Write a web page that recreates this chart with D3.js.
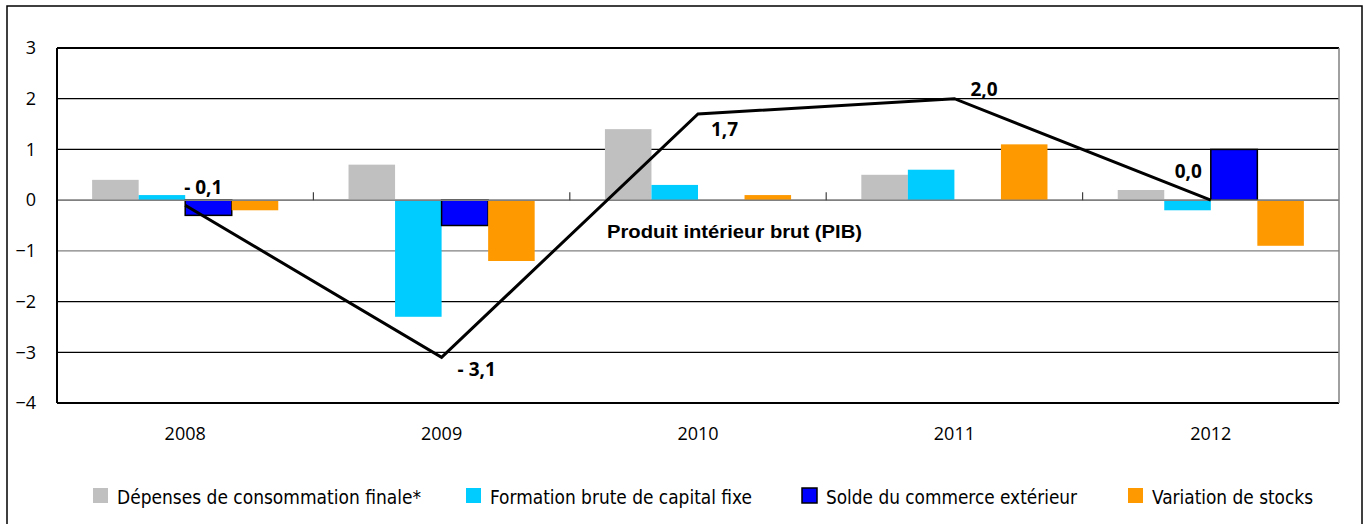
<!DOCTYPE html>
<html>
<head>
<meta charset="utf-8">
<script src="https://cdn.jsdelivr.net/npm/d3@7"></script>
<style>
  body { margin: 0; background: white; }
</style>
</head>
<body>
<div id="container"></div>
<script>
// data
let years = ["2008", "2009", "2010", "2011", "2012"];
let seriesNames = [
  "Dépenses de consommation finale*",
  "Formation brute de capital fixe",
  "Solde du commerce extérieur",
  "Variation de stocks"
];
let depenses = [0.4, 0.7, 1.4, 0.5, 0.2];
let formation = [0.1, -2.3, 0.3, 0.6, -0.2];
let solde = [-0.3, -0.5, 0, 0, 1.0];
let stocks = [-0.2, -1.2, 0.1, 1.1, -0.9];
let pib = [-0.1, -3.1, 1.7, 2.0, 0.0];
let yTicks = [3, 2, 1, 0, -1, -2, -3, -4];

///////////////////////////

let w = 1366;
let h = 524;
let plotLeft = 57, plotRight = 1339, plotTop = 48, plotBottom = 403;
let colors = ["#c0c0c0", "#00ccff", "#0000ff", "#ff9900"];

// where each pib label sits relative to its point
let labelDx = [-1, 16, 13, 16, -9];
let labelDy = [-11, 19, 22, -3, -22];
let labelAnchor = ["start", "start", "start", "start", "end"];

// legend layout
let legendX = [93, 466, 802, 1128];
let legendTextW = [304, 262, 251, 161];

let viz = d3.select("#container").append("svg")
  .attr("width", w)
  .attr("height", h)
  .style("display", "block");

viz.append("rect")
  .attr("x", 7).attr("y", 6)
  .attr("width", 1355).attr("height", 530)
  .attr("fill", "white")
  .attr("stroke", "black")
  .attr("stroke-width", 1.5);

let xScale = d3.scaleBand().domain(years).range([plotLeft, plotRight]);
let bw = xScale.bandwidth();
let inner = d3.scaleBand().domain(d3.range(4)).range([bw * 0.137, bw * (1 - 0.137)]);
let yScale = d3.scaleLinear().domain([-4, 3]).range([plotBottom, plotTop]);

// gridlines
viz.append("g").selectAll("line").data(yTicks)
  .enter().append("line")
    .attr("x1", plotLeft).attr("x2", plotRight)
    .attr("y1", d => yScale(d)).attr("y2", d => yScale(d))
    .attr("stroke", d => (d === 0 || d === -1) ? "#808080" : "black")
    .attr("stroke-width", d => (d === 3 || d === -4) ? 2 : 1.2);

// y axis labels
let yAxis = d3.axisLeft(yScale).tickValues(yTicks).tickFormat(d3.format("d"))
  .tickSize(0).tickPadding(21);
viz.append("g")
  .attr("transform", "translate(" + plotLeft + ",0)")
  .call(yAxis)
  .call(g => g.select(".domain").remove())
  .selectAll("text")
    .style("font-family", "'Open Sans', 'Noto Sans', sans-serif")
    .style("font-size", "18px")
    .attr("fill", "black");

// bars
let allSeries = [depenses, formation, solde, stocks];
allSeries.forEach(function(values, s){
  viz.append("g").selectAll("rect").data(values)
    .enter().append("rect")
      .attr("x", (d, i) => xScale(years[i]) + inner(s))
      .attr("width", inner.bandwidth())
      .attr("y", d => yScale(Math.max(0, d)))
      .attr("height", d => Math.abs(yScale(d) - yScale(0)))
      .attr("fill", colors[s])
      .attr("stroke", s === 2 ? "black" : "none")
      .attr("stroke-width", 1.5);
});

// zero axis + category ticks
viz.append("line")
  .attr("x1", plotLeft).attr("x2", plotRight)
  .attr("y1", yScale(0)).attr("y2", yScale(0))
  .attr("stroke", "#808080").attr("stroke-width", 1.5);

viz.append("g").selectAll("line").data(years.slice(1))
  .enter().append("line")
    .attr("x1", d => xScale(d)).attr("x2", d => xScale(d))
    .attr("y1", yScale(0)).attr("y2", yScale(0) - 8)
    .attr("stroke", "#404040").attr("stroke-width", 1.2);

// left and right frame
viz.append("line")
  .attr("x1", plotLeft).attr("x2", plotLeft).attr("y1", plotTop).attr("y2", plotBottom)
  .attr("stroke", "black").attr("stroke-width", 2);
viz.append("line")
  .attr("x1", plotRight).attr("x2", plotRight).attr("y1", plotTop).attr("y2", plotBottom)
  .attr("stroke", "#808080").attr("stroke-width", 1.5);

// x axis labels
let xAxis = d3.axisBottom(xScale).tickSize(0).tickPadding(24);
viz.append("g")
  .attr("transform", "translate(0," + plotBottom + ")")
  .call(xAxis)
  .call(g => g.select(".domain").remove())
  .selectAll("text")
    .style("font-family", "'Open Sans', 'Noto Sans', sans-serif")
    .style("font-size", "18px")
    .attr("fill", "black");

// pib line
let line = d3.line()
  .x((d, i) => xScale(years[i]) + bw / 2)
  .y(d => yScale(d));

viz.append("path")
  .datum(pib)
  .attr("d", line)
  .attr("fill", "none")
  .attr("stroke", "black")
  .attr("stroke-width", 3)
  .attr("stroke-linejoin", "miter");

function frFormat(d){
  let s = Math.abs(d).toFixed(1).replace(".", ",");
  return d < 0 ? "- " + s : s;
}

viz.append("g").selectAll("text").data(pib)
  .enter().append("text")
    .attr("x", (d, i) => xScale(years[i]) + bw / 2 + labelDx[i])
    .attr("y", (d, i) => yScale(d) + labelDy[i])
    .attr("text-anchor", (d, i) => labelAnchor[i])
    .style("font-family", "'Open Sans', sans-serif")
    .style("font-weight", "bold")
    .style("font-size", "19px")
    .text(frFormat);

viz.append("text")
  .attr("x", xScale("2010") + bw / 2 - 91)
  .attr("y", yScale(-0.75))
  .attr("textLength", 255)
  .attr("lengthAdjust", "spacingAndGlyphs")
  .style("font-family", "'Liberation Sans', Arial, sans-serif")
  .style("font-weight", "bold")
  .style("font-size", "18px")
  .text("Produit intérieur brut (PIB)");

// legend
let legend = viz.append("g").selectAll("g").data(seriesNames)
  .enter().append("g")
    .attr("transform", (d, i) => "translate(" + legendX[i] + ",488)");

legend.append("rect")
  .attr("width", 15).attr("height", 15)
  .attr("fill", (d, i) => colors[i])
  .attr("stroke", (d, i) => i === 2 ? "black" : "none")
  .attr("stroke-width", 1.5);

legend.append("text")
  .attr("x", 24).attr("y", 16)
  .attr("textLength", (d, i) => legendTextW[i])
  .attr("lengthAdjust", "spacingAndGlyphs")
  .style("font-family", "'Liberation Sans Narrow', 'DejaVu Sans Condensed', sans-serif")
  .style("font-size", "19px")
  .text(d => d);

console.log("loaded");
</script>
</body>
</html>
